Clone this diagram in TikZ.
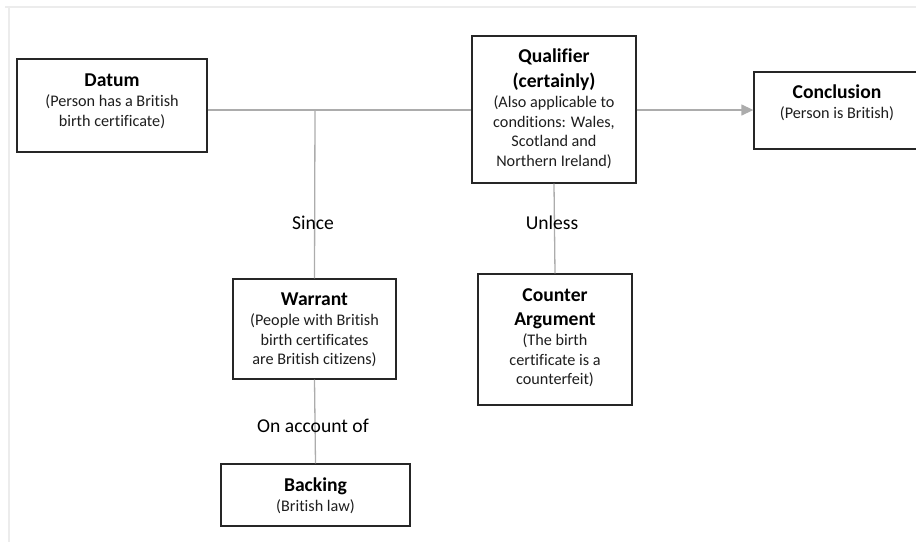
\documentclass[tikz,border=0pt]{standalone}
\usepackage{fontspec}
\setmainfont[Ligatures=CommonOff]{Carlito}
\usetikzlibrary{arrows.meta}
\definecolor{linkgray}{RGB}{172,172,172}
\definecolor{boxline}{RGB}{38,38,38}
\definecolor{bodytext}{RGB}{30,30,30}
\definecolor{pagegray}{RGB}{236,236,236}
\newcommand{\ttl}[1]{{\fontsize{19.6}{24}\selectfont\bfseries\color{black}#1}}
\tikzset{
  box/.style={draw=boxline, line width=1.3pt, fill=white, inner sep=0pt},
  txt/.style={align=center, inner sep=0pt, text=bodytext,
    font=\fontsize{16.2}{19.8}\selectfont},
  link/.style={draw=linkgray, line width=1.3pt},
  tag/.style={inner sep=0pt, text=black, font=\fontsize{19.6}{22}\selectfont}
}
\begin{document}
\begin{tikzpicture}[x=1pt,y=-1pt]
\useasboundingbox (0,0) rectangle (916,542);
\clip (0,0) rectangle (916,542);
% page edge
\draw[pagegray, line width=2pt] (5,7) -- (916,7);
\draw[pagegray, line width=2pt] (9,7) -- (9,542);

% boxes
\node[box, minimum width=190, minimum height=93] (datum) at (112,105.5) {};
\node[box, minimum width=164, minimum height=147] (qual) at (554,109.5) {};
\node[box, minimum width=166, minimum height=77] (concl) at (837,110.5) {};
\node[box, minimum width=163, minimum height=100] (warrant) at (314.5,329) {};
\node[box, minimum width=154, minimum height=131] (counter) at (555,339.5) {};
\node[box, minimum width=189, minimum height=62] (backing) at (315.5,495) {};

% connectors
\coordinate (j) at (315,110);
\draw[link] (datum.east |- j) -- (qual.west |- j);
\draw[link, -{Triangle[length=12pt,width=11pt]}] (qual.east |- j) -- (concl.west |- j);
\draw[link] (j) -- (warrant.north);
\draw[link] (qual.south) -- (counter.north);
\draw[link] (warrant.south) -- (backing.north);

% box texts
\node[txt] (tdatum) at (112,101) {\ttl{Datum}\\(Person has a British\\birth certificate)};
\node[txt] (tqual) at (554,109) {\ttl{Qualifier}\\[5pt]\ttl{(certainly)}\\(Also applicable to\\conditions: Wales,\\Scotland and\\Northern Ireland)};
\node[txt] (tconcl) at (837,103) {\ttl{Conclusion}\\(Person is British)};
\node[txt] (twarrant) at (314.5,330) {\ttl{Warrant}\\(People with British\\birth certificates\\are British citizens)};
\node[txt] (tcounter) at (555,338) {\ttl{Counter}\\[4pt]\ttl{Argument}\\(The birth\\certificate is a\\counterfeit)};
\node[txt] (tbacking) at (315.5,496) {\ttl{Backing}\\(British law)};

% connector labels
\node[tag] (since) at (313,223) {Since};
\node[tag] (unless) at (552,223) {Unless};
\node[tag] (onacc) at (313,426) {On account of};
\end{tikzpicture}
\end{document}
